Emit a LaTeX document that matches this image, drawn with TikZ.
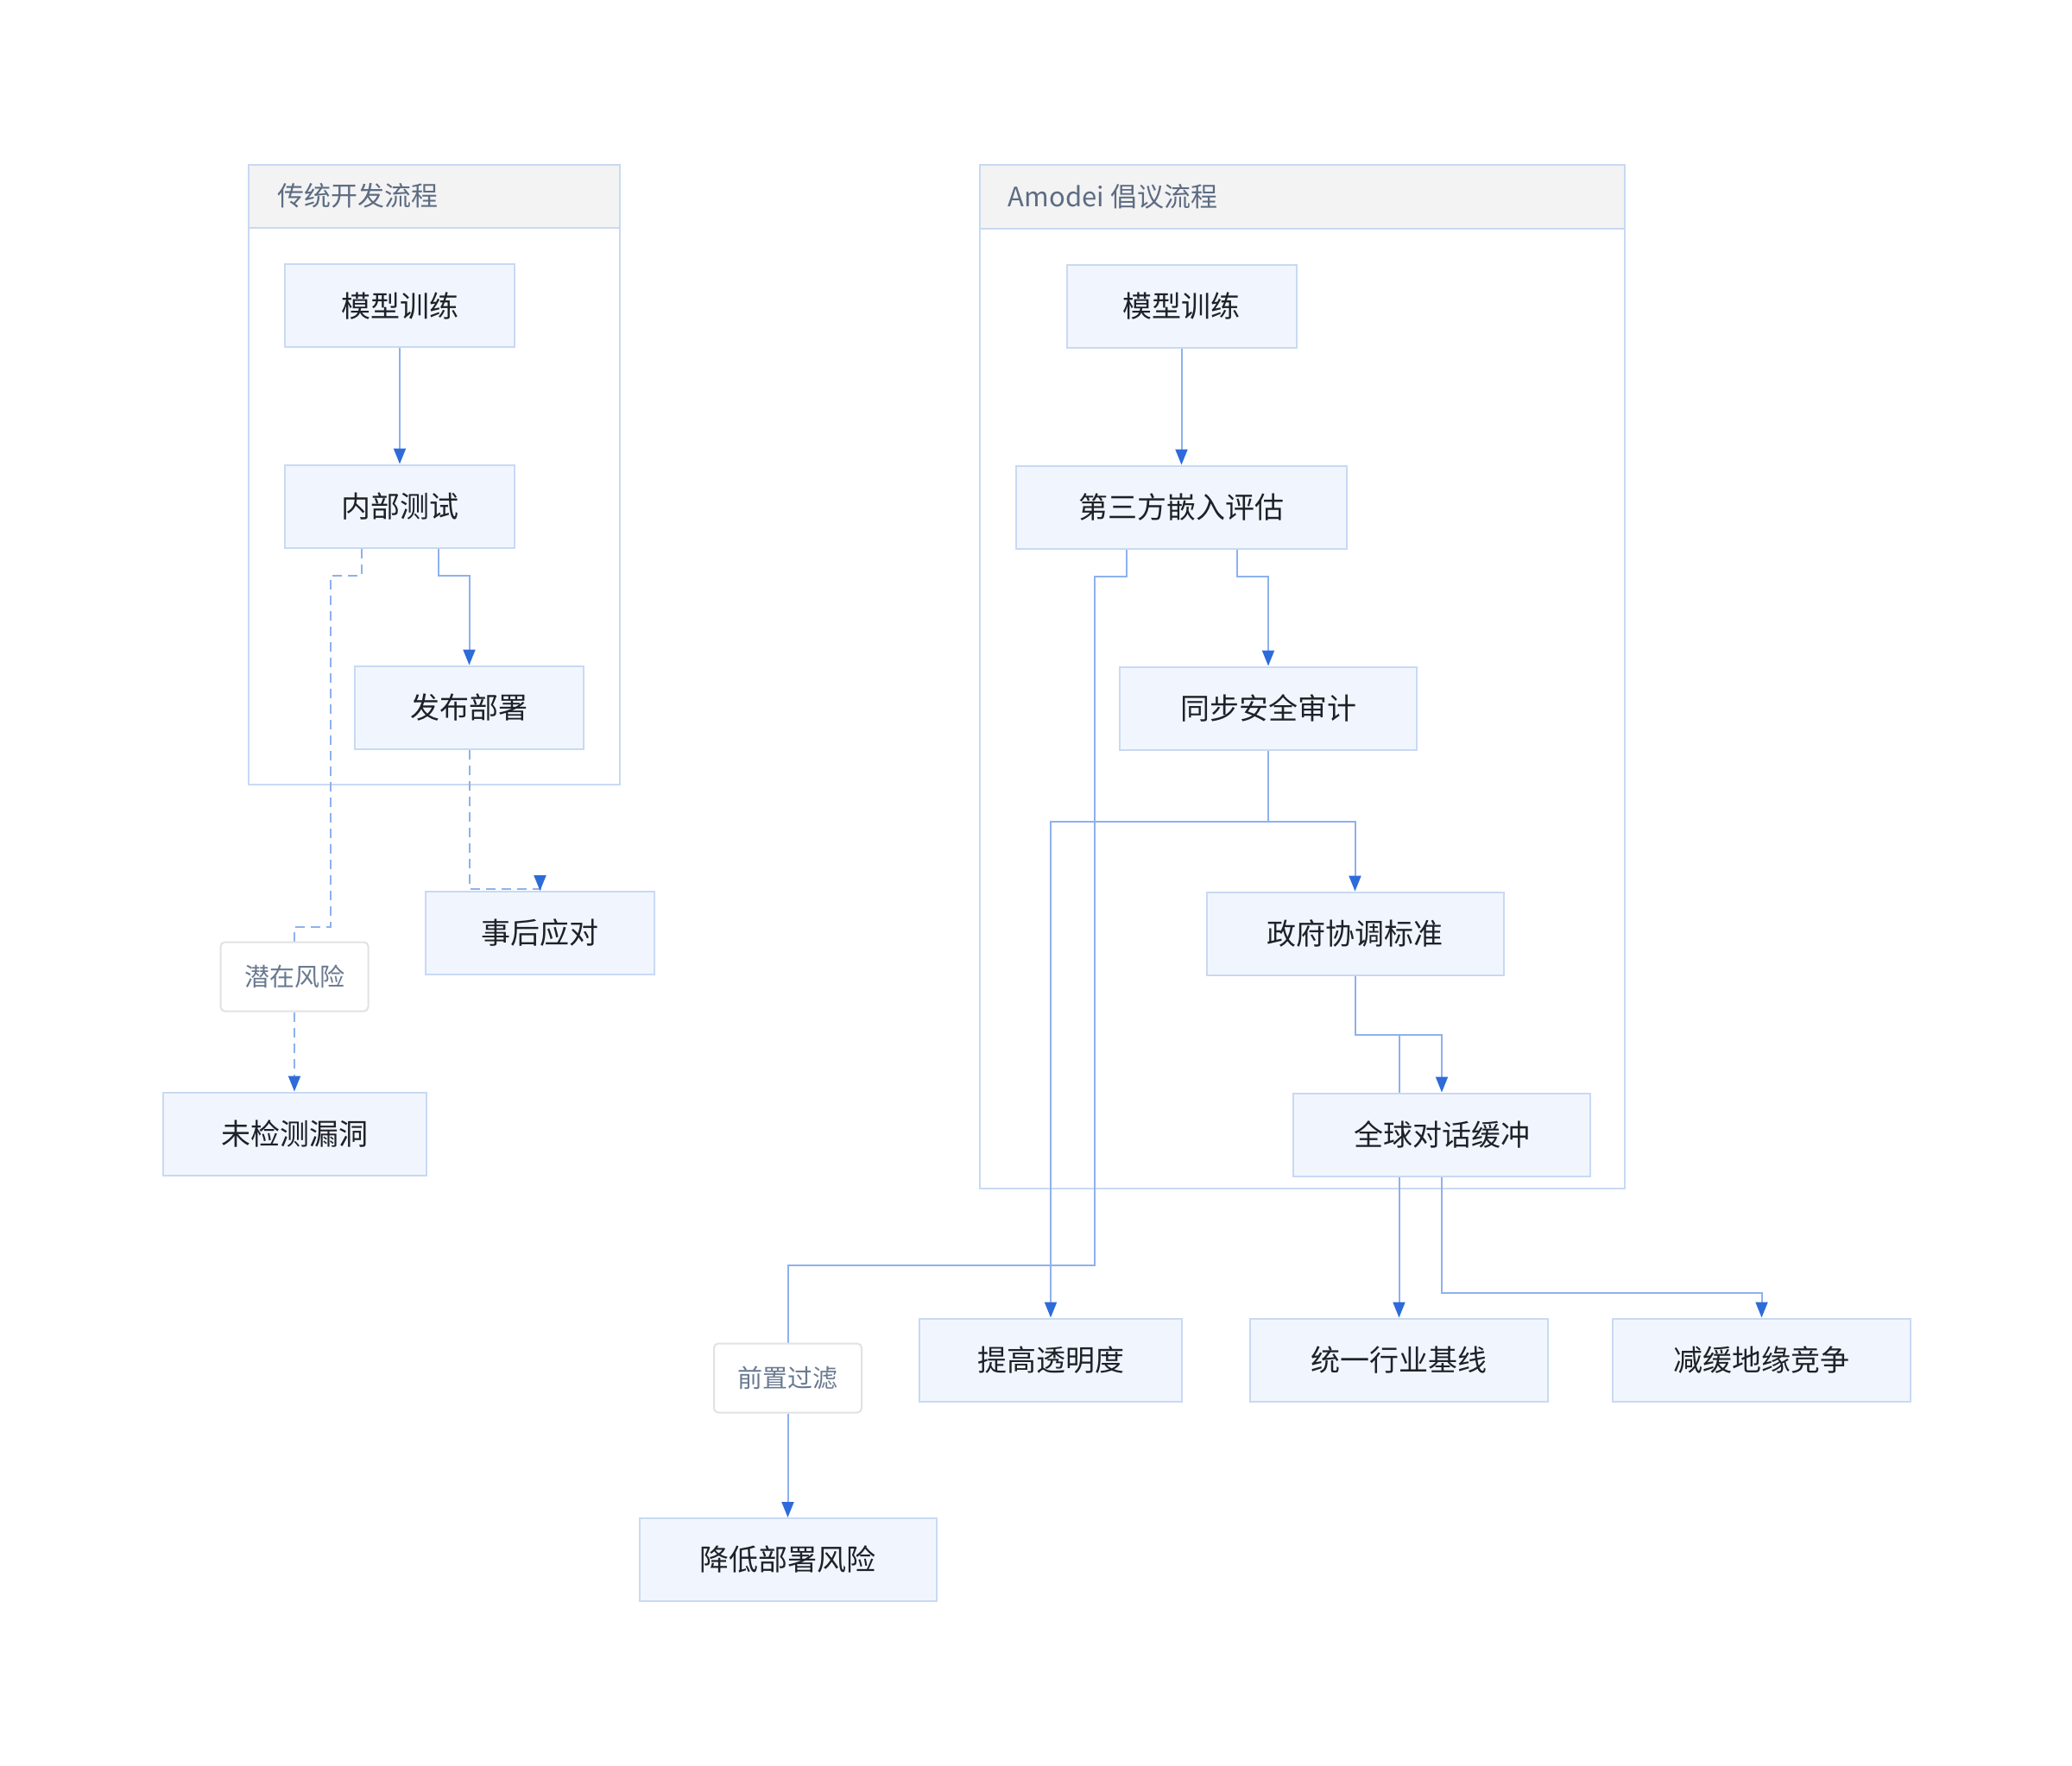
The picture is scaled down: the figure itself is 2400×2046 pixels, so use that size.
\documentclass[tikz,border=0pt]{standalone}
\usepackage{fontspec}
\newfontfamily\cjk{Noto Sans CJK SC}
\usepackage{tikz}
\usetikzlibrary{arrows.meta}
\definecolor{boxfill}{HTML}{F1F6FE}
\definecolor{boxline}{HTML}{C9D9F3}
\definecolor{flowline}{HTML}{8EB1EE}
\definecolor{tipblue}{HTML}{2E6BDA}
\definecolor{headfill}{HTML}{F3F3F3}
\definecolor{headtext}{HTML}{5D6C83}
\definecolor{tagline}{HTML}{E2E2E2}
\definecolor{tagtext}{HTML}{69798F}
\definecolor{inktext}{HTML}{1E2228}
\pgfdeclarelayer{back}
\pgfdeclarelayer{wires}
\pgfsetlayers{back,wires,main}
\tikzset{stepbox/.style={draw=boxline, fill=boxfill, line width=1pt, minimum height=48pt, inner sep=0pt, text=inktext, font=\cjk\fontsize{17}{20}\selectfont}}
\tikzset{tag/.style={draw=tagline, fill=white, line width=1pt, rounded corners=2.5pt, minimum width=85.5pt, minimum height=40pt, inner sep=0pt, text=tagtext, font=\cjk\fontsize{14.5}{17}\selectfont}}
\tikzset{flow/.style={draw=flowline, line width=1pt, -{Triangle[length=9pt,width=7pt,color=tipblue]}}}
\tikzset{flowplain/.style={draw=flowline, line width=1pt}}
\tikzset{risky/.style={dash pattern=on 5.5pt off 3.5pt}}
\tikzset{cluster/.style={draw=boxline, line width=1pt}}
\tikzset{clustertitle/.style={anchor=west, inner sep=0pt, text=headtext, font=\cjk\fontsize{15.5}{18}\selectfont}}

\begin{document}
\begin{tikzpicture}[x=0.5pt, y=-0.5pt]
            \useasboundingbox (0,0) rectangle (2400,2046);
            % traditional flow
            \node[stepbox, minimum width=133pt] (trainA) at (463,354) {模型训练};
            \node[stepbox, minimum width=133pt] (testA) at (463,586.5) {内部测试};
            \node[stepbox, minimum width=132.5pt] (releaseA) at (543.5,819.5) {发布部署};
            \node[stepbox, minimum width=132.5pt] (afterA) at (625.5,1081) {事后应对};
            \node[tag] (riskTag) at (341,1131.5) {潜在风险};
            \node[stepbox, minimum width=152.5pt] (missA) at (341,1313.5) {未检测漏洞};
            % proposed flow
            \node[stepbox, minimum width=133pt] (trainB) at (1368.5,354.5) {模型训练};
            \node[stepbox, minimum width=191.5pt] (evalB) at (1368.5,587.5) {第三方嵌入评估};
            \node[stepbox, minimum width=172pt] (auditB) at (1469,820.5) {同步安全审计};
            \node[stepbox, minimum width=172pt] (govB) at (1569.5,1081.5) {政府协调标准};
            \node[stepbox, minimum width=172pt] (globalB) at (1670,1314.5) {全球对话缓冲};
            \node[stepbox, minimum width=152pt] (clearB) at (1217,1575.5) {提高透明度};
            \node[stepbox, minimum width=172.5pt] (baseB) at (1620.5,1575.5) {统一行业基线};
            \node[stepbox, minimum width=172.5pt] (calmB) at (2040.5,1575.5) {减缓地缘竞争};
            \node[tag] (filterTag) at (912.5,1596.5) {前置过滤};
            \node[stepbox, minimum width=172pt] (lowerB) at (912.5,1807) {降低部署风险};
            \begin{pgfonlayer}{back}
                \fill[white] (0,0) rectangle (2400,2046);
                \draw[cluster, fill=headfill] (288,191) rectangle (718,264);
                \draw[cluster] (288,191) rectangle (718,909);
                \node[clustertitle] (titleA) at (321,227) {传统开发流程};
                \draw[cluster, fill=headfill] (1135,191) rectangle (1882,265);
                \draw[cluster] (1135,191) rectangle (1882,1376.5);
                \node[clustertitle] (titleB) at (1167.5,228) {Amodei 倡议流程};
            \end{pgfonlayer}
            \begin{pgfonlayer}{wires}
                \draw[flow] (trainA) -- (testA);
                \draw[flow] ([xshift=22.25pt]testA.south) -- ++(0,31) -| (releaseA.north);
                \draw[flowplain, risky] ([xshift=-22.25pt]testA.south) -- ++(0,31) -| ++(-36,407) -| (riskTag.north);
                \draw[flow, risky] (riskTag) -- (missA);
                \draw[flow, risky] (releaseA.south) -- ++(0,161) -| (afterA.north);
                \draw[flow] (trainB) -- (evalB);
                \draw[flow] ([xshift=32pt]evalB.south) -- ++(0,31.5) -| (auditB.north);
                \draw[flowplain] ([xshift=-32pt]evalB.south) -- ++(0,31.5) -| ++(-37,797.5) -| (filterTag.north);
                \draw[flow] (filterTag) -- (lowerB);
                \draw[flow] (auditB.south) -- ++(0,82) -| (clearB.north);
                \draw[flow] (auditB.south) -- ++(0,82) -| (govB.north);
                \draw[flow] (govB.south) -- ++(0,68) -| (globalB.north);
                \draw[flow] (govB.south) -- ++(0,68) -| (baseB.north);
                \draw[flow] (globalB.south) -- ++(0,134) -| (calmB.north);
            \end{pgfonlayer}
        \end{tikzpicture}
\end{document}
